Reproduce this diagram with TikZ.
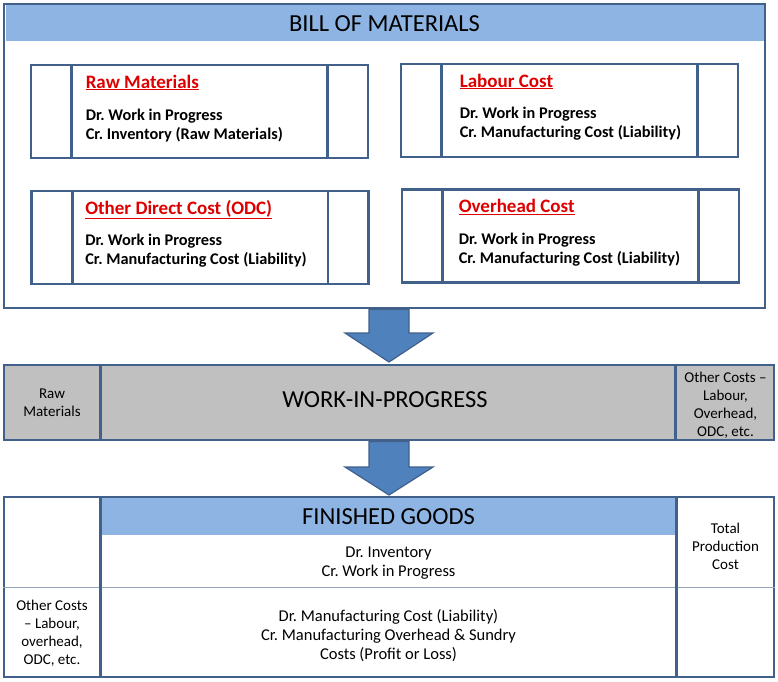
\documentclass[tikz,border=0pt]{standalone}
\usepackage{fontspec}
\setmainfont{Carlito}
\usetikzlibrary{calc}
\frenchspacing

\definecolor{frameblue}{RGB}{65,96,138}
\definecolor{bandblue}{RGB}{141,180,226}
\definecolor{arrowblue}{RGB}{79,129,189}
\definecolor{wipgray}{RGB}{192,192,192}
\definecolor{titlered}{RGB}{222,0,0}

\tikzset{
  boxframe/.style={draw=frameblue, line width=2.8pt},
  entry/.style={boxframe, minimum width=337pt, minimum height=93pt, inner sep=0pt},
  band/.style={fill=bandblue, inner sep=0pt, outer sep=0pt},
  heading/.style={anchor=base west, inner sep=0pt, text=titlered,
    font=\fontsize{19}{22}\selectfont\bfseries},
  entrytext/.style={anchor=west, inner sep=0pt, align=left,
    font=\fontsize{16.3}{19}\selectfont\bfseries},
  bigtitle/.style={font=\fontsize{24.5}{28}\selectfont},
  smalltext/.style={align=center, inner sep=0pt, font=\fontsize{15}{18}\selectfont},
  bodytext/.style={align=center, inner sep=0pt, font=\fontsize{16.5}{19}\selectfont},
  bigarrow/.style={fill=arrowblue, draw=frameblue, line width=1.2pt, line join=miter},
  thinrule/.style={draw=frameblue!55, line width=1pt},
}

% one journal entry box of the bill of materials
% #1 text indent, #2 name, #3 #4 centre, #5 heading, #6 #7 entry lines
\newcommand{\costbox}[7][56]{%
  \node[entry] (#2) at (#3,#4) {};
  \draw[boxframe] ([xshift=42pt]#2.north west) -- ([xshift=42pt]#2.south west);
  \draw[boxframe] ([xshift=-42pt]#2.north east) -- ([xshift=-42pt]#2.south east);
  \node[heading] (#2-title) at ([xshift=#1pt,yshift=-24.5pt]#2.north west) {\underline{#5}};
  \node[entrytext] (#2-text) at ([xshift=#1pt,yshift=-61.5pt]#2.north west) {#6\\#7};
}

\begin{document}
\begin{tikzpicture}[x=1pt, y=-1pt]
\useasboundingbox (0,0) rectangle (778,681);

% bill of materials
\node[boxframe, minimum width=761pt, minimum height=304pt, inner sep=0pt] (bom) at (384.5,156) {};
\node[band, bigtitle, minimum width=758pt, minimum height=35.6pt, anchor=north] (bomtitle)
  at ([yshift=-2.8pt]bom.north) {BILL OF MATERIALS};

\costbox{rm}{199.5}{111.5}{Raw Materials}{Dr. Work in Progress}{Cr. Inventory (Raw Materials)}
\costbox[60]{lab}{569.5}{110.5}{Labour Cost}{Dr. Work in Progress}{Cr. Manufacturing Cost (Liability)}
\costbox[55]{odc}{200}{237.5}{Other Direct Cost (ODC)}{Dr. Work in Progress}{Cr. Manufacturing Cost (Liability)}
\costbox[58]{ovh}{570.5}{236}{Overhead Cost}{Dr. Work in Progress}{Cr. Manufacturing Cost (Liability)}

% work in progress
\node[boxframe, fill=wipgray, minimum width=770pt, minimum height=75pt, inner sep=0pt] (wip) at (389,402.5) {};
\node[bigtitle] (wiptitle) at (385,400) {WORK-IN-PROGRESS};
\node[smalltext, minimum width=96pt] (wiprm) at (52,402.5) {Raw\\Materials};
\node[smalltext, minimum width=99pt] (wipoc) at (725.5,405) {Other Costs --\\Labour,\\Overhead,\\ODC, etc.};
\draw[boxframe] (wiprm.east |- wip.north) -- (wiprm.east |- wip.south);
\draw[boxframe] (wipoc.west |- wip.north) -- (wipoc.west |- wip.south);

% finished goods
\node[boxframe, minimum width=770pt, minimum height=180pt, inner sep=0pt] (fg) at (389,587) {};
\node[band, bigtitle, minimum width=577pt, minimum height=37pt] (fgtitle) at (388.5,516.5) {FINISHED GOODS};
\node[bodytext] (fginv) at (388.5,563) {Dr. Inventory\\Cr. Work in Progress};
\node[bodytext] (fgmfg) at (388.5,635.5) {Dr. Manufacturing Cost (Liability)\\Cr. Manufacturing Overhead \& Sundry\\Costs (Profit or Loss)};
\node[smalltext, minimum width=96pt] (fgoc) at (52,633.5) {Other Costs\\-- Labour,\\overhead,\\ODC, etc.};
\node[smalltext, minimum width=97pt] (fgtpc) at (725.5,546) {Total\\Production\\Cost};
\draw[thinrule] (fg.west) -- (fg.east);
\draw[boxframe] (fgoc.east |- fg.north) -- (fgoc.east |- fg.south);
\draw[boxframe] (fgtpc.west |- fg.north) -- (fgtpc.west |- fg.south);

% arrows
\draw[bigarrow] ($(bom.south -| wip.north)+(-20,0)$) -- ++(0,23.6) -- ++(-24,0)
  -- ($(wip.north)+(0,-1.6)$) -- ++(44,-29) -- ++(-24,0)
  -- ($(bom.south -| wip.north)+(20,0)$) -- cycle;
\draw[bigarrow] ($(wip.south)+(-20,0)$) -- ++(0,25.6) -- ++(-24,0)
  -- ($(fg.north)+(0,-0.6)$) -- ++(44,-28) -- ++(-24,0)
  -- ($(wip.south)+(20,0)$) -- cycle;

\end{tikzpicture}
\end{document}
